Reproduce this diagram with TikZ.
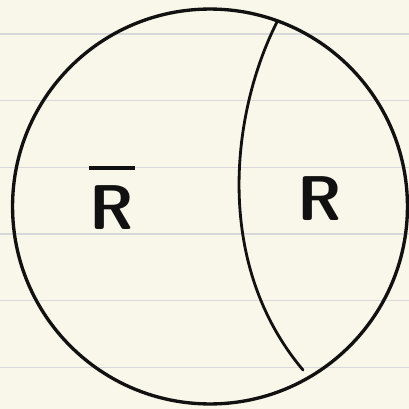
\documentclass[tikz,border=0pt]{standalone}
\usepackage{tikz}
\usetikzlibrary{calc}
\usepackage{xcolor}
\definecolor{paper}{HTML}{F8F7E9}
\definecolor{ruling}{HTML}{D8D8DA}
\definecolor{ink}{HTML}{111111}

\begin{document}
\begin{tikzpicture}[
    x=0.02cm, y=-0.02cm,
    pen/.style={draw=ink, line width=1.9pt, line cap=round},
    label/.style={font=\sffamily\bfseries\fontsize{36}{40}\selectfont, text=ink, inner sep=0pt, align=center}
  ]
    % lined paper
    \fill[paper] (0,0) rectangle (409,409);
    \useasboundingbox (0,0) rectangle (409,409);
    \foreach \y in {34,100.7,167.4,234,300.7,367.4}
      \draw[ruling, line width=0.6pt] (0,\y) -- (409,\y);

    % sample space and the region R
    \node[pen, circle, minimum size=7.9cm, outer sep=0pt] (omega) at (210,206.5) {};
    \coordinate (cut end) at (303,370);
    \draw[pen, line width=1.6pt]
      (omega.70) .. controls (232,110) and (212,262) .. (cut end);

    \node[label] (rbar) at (112,198) {\rule{0.72em}{1.9pt}\\[-6pt]R};
    \node[label] (r) at (320,199) {R};
  \end{tikzpicture}
\end{document}
